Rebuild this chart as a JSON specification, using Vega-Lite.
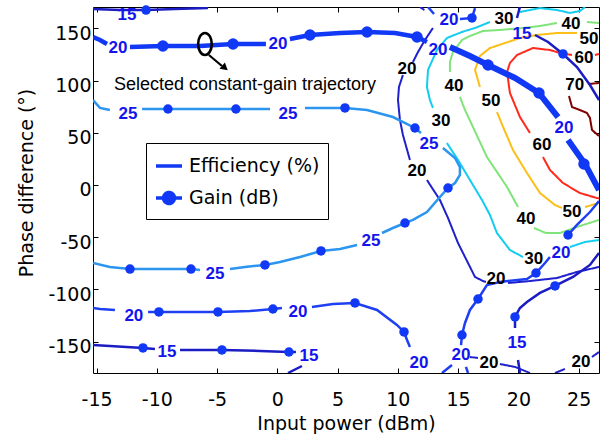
{
"$schema":"https://vega.github.io/schema/vega-lite/v6.json",
"width":506,"height":366,
"autosize":{"type":"none"},
"padding":{"left":93,"top":7,"right":11,"bottom":66},
"background":"#ffffff",
"config":{
 "view":{"stroke":"#000000","strokeWidth":1},
 "axis":{"domain":false,"grid":false,"ticks":true,"tickColor":"#000000","tickWidth":1,"tickSize":-5,"labelFont":"DejaVu Sans","labelFontSize":19,"labelColor":"#000000","labelFlush":false,"labelOverlap":false,"titleFont":"DejaVu Sans","titleFontSize":19,"titleFontWeight":"normal","titleColor":"#000000"}
},
"datasets":{
"lines":[
{"s":"e20i","c":"E20","k":"E","o":0,"x":11.83,"y":170.5},{"s":"e20i","c":"E20","k":"E","o":1,"x":12.2,"y":167.6},
{"s":"e20a","c":"E20","k":"E","o":2,"x":12.91,"y":150.4},{"s":"e20a","c":"E20","k":"E","o":3,"x":12.25,"y":138.9},{"s":"e20a","c":"E20","k":"E","o":4,"x":11.67,"y":127.4},{"s":"e20a","c":"E20","k":"E","o":5,"x":11.25,"y":117.8},
{"s":"e20b","c":"E20","k":"E","o":6,"x":10.42,"y":105.4},{"s":"e20b","c":"E20","k":"E","o":7,"x":10.09,"y":93.9},{"s":"e20b","c":"E20","k":"E","o":8,"x":10.01,"y":81.4},{"s":"e20b","c":"E20","k":"E","o":9,"x":10.17,"y":62.3},{"s":"e20b","c":"E20","k":"E","o":10,"x":10.42,"y":47.9},{"s":"e20b","c":"E20","k":"E","o":11,"x":11.0,"y":24.0},
{"s":"e20c","c":"E20","k":"E","o":12,"x":12.41,"y":4.8},{"s":"e20c","c":"E20","k":"E","o":13,"x":13.49,"y":-14.4},{"s":"e20c","c":"E20","k":"E","o":14,"x":14.16,"y":-31.6},{"s":"e20c","c":"E20","k":"E","o":15,"x":14.99,"y":-55.6},{"s":"e20c","c":"E20","k":"E","o":16,"x":15.82,"y":-74.7},{"s":"e20c","c":"E20","k":"E","o":17,"x":16.4,"y":-88.1},{"s":"e20c","c":"E20","k":"E","o":18,"x":17.06,"y":-92.0},{"s":"e20c","c":"E20","k":"E","o":19,"x":17.31,"y":-92.9},
{"s":"e20d","c":"E20","k":"E","o":20,"x":19.14,"y":-93.9},{"s":"e20d","c":"E20","k":"E","o":21,"x":20.96,"y":-92.0},{"s":"e20d","c":"E20","k":"E","o":22,"x":23.2,"y":-89.1},{"s":"e20d","c":"E20","k":"E","o":23,"x":24.86,"y":-83.3},{"s":"e20d","c":"E20","k":"E","o":24,"x":26.69,"y":-78.5},
{"s":"e20e","c":"E20","k":"E","o":25,"x":15.98,"y":-164.8},{"s":"e20e","c":"E20","k":"E","o":26,"x":16.65,"y":-165.7},
{"s":"e20f","c":"E20","k":"E","o":27,"x":18.47,"y":-171.5},{"s":"e20f","c":"E20","k":"E","o":28,"x":19.72,"y":-174.3},{"s":"e20f","c":"E20","k":"E","o":29,"x":20.96,"y":-180.1},
{"s":"e20g","c":"E20","k":"E","o":30,"x":23.04,"y":-180.1},{"s":"e20g","c":"E20","k":"E","o":31,"x":23.86,"y":-176.2},
{"s":"e20h","c":"E20","k":"E","o":32,"x":26.1,"y":-164.8},{"s":"e20h","c":"E20","k":"E","o":33,"x":26.69,"y":-160.0},
{"s":"e30a","c":"E30","k":"E","o":34,"x":25.53,"y":170.5},{"s":"e30a","c":"E30","k":"E","o":35,"x":25.11,"y":166.7},{"s":"e30a","c":"E30","k":"E","o":36,"x":24.28,"y":164.8},{"s":"e30a","c":"E30","k":"E","o":37,"x":23.2,"y":167.6},{"s":"e30a","c":"E30","k":"E","o":38,"x":21.79,"y":169.5},{"s":"e30a","c":"E30","k":"E","o":39,"x":20.13,"y":165.7},
{"s":"e30b","c":"E30","k":"E","o":40,"x":17.64,"y":156.1},{"s":"e30b","c":"E30","k":"E","o":41,"x":16.4,"y":150.4},{"s":"e30b","c":"E30","k":"E","o":42,"x":15.32,"y":146.6},{"s":"e30b","c":"E30","k":"E","o":43,"x":14.07,"y":140.8},{"s":"e30b","c":"E30","k":"E","o":44,"x":13.24,"y":129.3},{"s":"e30b","c":"E30","k":"E","o":45,"x":12.5,"y":110.2},{"s":"e30b","c":"E30","k":"E","o":46,"x":12.41,"y":93.9},{"s":"e30b","c":"E30","k":"E","o":47,"x":12.66,"y":81.4},{"s":"e30b","c":"E30","k":"E","o":48,"x":12.91,"y":73.8},
{"s":"e30c","c":"E30","k":"E","o":49,"x":14.07,"y":40.2},{"s":"e30c","c":"E30","k":"E","o":50,"x":14.99,"y":24.0},{"s":"e30c","c":"E30","k":"E","o":51,"x":15.98,"y":4.8},{"s":"e30c","c":"E30","k":"E","o":52,"x":16.98,"y":-14.4},{"s":"e30c","c":"E30","k":"E","o":53,"x":17.64,"y":-28.7},{"s":"e30c","c":"E30","k":"E","o":54,"x":18.22,"y":-46.0},{"s":"e30c","c":"E30","k":"E","o":55,"x":19.3,"y":-62.3},{"s":"e30c","c":"E30","k":"E","o":56,"x":20.38,"y":-69.0},
{"s":"e30d","c":"E30","k":"E","o":57,"x":24.28,"y":-59.4},{"s":"e30d","c":"E30","k":"E","o":58,"x":25.53,"y":-54.6},{"s":"e30d","c":"E30","k":"E","o":59,"x":26.69,"y":-52.7},
{"s":"e40a","c":"E40","k":"E","o":60,"x":26.69,"y":155.2},{"s":"e40a","c":"E40","k":"E","o":61,"x":25.69,"y":156.1},
{"s":"e40b","c":"E40","k":"E","o":62,"x":23.2,"y":155.2},{"s":"e40b","c":"E40","k":"E","o":63,"x":21.79,"y":152.3},{"s":"e40b","c":"E40","k":"E","o":64,"x":20.38,"y":150.4},{"s":"e40b","c":"E40","k":"E","o":65,"x":18.47,"y":148.5},{"s":"e40b","c":"E40","k":"E","o":66,"x":17.06,"y":147.5},{"s":"e40b","c":"E40","k":"E","o":67,"x":15.98,"y":142.7},{"s":"e40b","c":"E40","k":"E","o":68,"x":15.32,"y":138.9},{"s":"e40b","c":"E40","k":"E","o":69,"x":14.57,"y":127.4},{"s":"e40b","c":"E40","k":"E","o":70,"x":14.32,"y":117.8},{"s":"e40b","c":"E40","k":"E","o":71,"x":14.32,"y":108.2},
{"s":"e40c","c":"E40","k":"E","o":72,"x":15.15,"y":84.3},{"s":"e40c","c":"E40","k":"E","o":73,"x":15.57,"y":71.8},{"s":"e40c","c":"E40","k":"E","o":74,"x":16.23,"y":55.6},{"s":"e40c","c":"E40","k":"E","o":75,"x":17.39,"y":26.8},{"s":"e40c","c":"E40","k":"E","o":76,"x":19.06,"y":-1.9},{"s":"e40c","c":"E40","k":"E","o":77,"x":19.97,"y":-21.1},
{"s":"e40d","c":"E40","k":"E","o":78,"x":21.29,"y":-41.2},{"s":"e40d","c":"E40","k":"E","o":79,"x":22.29,"y":-46.0},{"s":"e40d","c":"E40","k":"E","o":80,"x":23.45,"y":-46.0},{"s":"e40d","c":"E40","k":"E","o":81,"x":24.86,"y":-40.2},{"s":"e40d","c":"E40","k":"E","o":82,"x":26.69,"y":-33.5},
{"s":"e50a","c":"E50","k":"E","o":83,"x":24.86,"y":145.6},{"s":"e50a","c":"E50","k":"E","o":84,"x":23.2,"y":145.6},{"s":"e50a","c":"E50","k":"E","o":85,"x":21.54,"y":143.7},{"s":"e50a","c":"E50","k":"E","o":86,"x":20.13,"y":140.8},{"s":"e50a","c":"E50","k":"E","o":87,"x":18.89,"y":136.0},{"s":"e50a","c":"E50","k":"E","o":88,"x":17.64,"y":131.2},{"s":"e50a","c":"E50","k":"E","o":89,"x":16.81,"y":123.6},{"s":"e50a","c":"E50","k":"E","o":90,"x":16.4,"y":110.2},{"s":"e50a","c":"E50","k":"E","o":91,"x":16.81,"y":93.9},
{"s":"e50b","c":"E50","k":"E","o":92,"x":18.22,"y":69.9},{"s":"e50b","c":"E50","k":"E","o":93,"x":18.73,"y":55.6},{"s":"e50b","c":"E50","k":"E","o":94,"x":19.55,"y":33.5},{"s":"e50b","c":"E50","k":"E","o":95,"x":20.71,"y":11.5},{"s":"e50b","c":"E50","k":"E","o":96,"x":21.79,"y":-7.7},{"s":"e50b","c":"E50","k":"E","o":97,"x":23.04,"y":-19.2},{"s":"e50b","c":"E50","k":"E","o":98,"x":23.62,"y":-22.0},
{"s":"e50c","c":"E50","k":"E","o":99,"x":25.53,"y":-21.1},{"s":"e50c","c":"E50","k":"E","o":100,"x":26.69,"y":-17.2},
{"s":"e60a","c":"E60","k":"E","o":101,"x":26.35,"y":124.5},{"s":"e60a","c":"E60","k":"E","o":102,"x":26.69,"y":125.5},
{"s":"e60b","c":"E60","k":"E","o":103,"x":24.45,"y":124.5},{"s":"e60b","c":"E60","k":"E","o":104,"x":23.45,"y":126.4},{"s":"e60b","c":"E60","k":"E","o":105,"x":22.62,"y":129.3},{"s":"e60b","c":"E60","k":"E","o":106,"x":21.21,"y":131.2},{"s":"e60b","c":"E60","k":"E","o":107,"x":19.88,"y":124.5},{"s":"e60b","c":"E60","k":"E","o":108,"x":19.3,"y":116.9},{"s":"e60b","c":"E60","k":"E","o":109,"x":19.06,"y":108.2},{"s":"e60b","c":"E60","k":"E","o":110,"x":19.3,"y":88.1},{"s":"e60b","c":"E60","k":"E","o":111,"x":20.13,"y":65.1},{"s":"e60b","c":"E60","k":"E","o":112,"x":20.96,"y":49.8},
{"s":"e60c","c":"E60","k":"E","o":113,"x":22.04,"y":26.8},{"s":"e60c","c":"E60","k":"E","o":114,"x":22.62,"y":14.4},{"s":"e60c","c":"E60","k":"E","o":115,"x":23.7,"y":1.9},{"s":"e60c","c":"E60","k":"E","o":116,"x":25.11,"y":-7.7},{"s":"e60c","c":"E60","k":"E","o":117,"x":26.52,"y":-12.5},{"s":"e60c","c":"E60","k":"E","o":118,"x":26.69,"y":-12.9},
{"s":"e70a","c":"E70","k":"E","o":119,"x":26.69,"y":97.7},{"s":"e70a","c":"E70","k":"E","o":120,"x":25.78,"y":96.7},
{"s":"e70b","c":"E70","k":"E","o":121,"x":24.2,"y":85.2},{"s":"e70b","c":"E70","k":"E","o":122,"x":24.45,"y":74.7},{"s":"e70b","c":"E70","k":"E","o":123,"x":25.11,"y":71.8},{"s":"e70b","c":"E70","k":"E","o":124,"x":25.69,"y":69.0},{"s":"e70b","c":"E70","k":"E","o":125,"x":25.94,"y":64.2},{"s":"e70b","c":"E70","k":"E","o":126,"x":26.11,"y":52.7},{"s":"e70b","c":"E70","k":"E","o":127,"x":26.69,"y":46.9},
{"s":"g15a","c":"G15","k":"G","o":128,"x":-15.3,"y":168.6},{"s":"g15a","c":"G15","k":"G","o":129,"x":-13.06,"y":167.6},{"s":"g15a","c":"G15","k":"G","o":130,"x":-10.9,"y":167.6},{"s":"g15a","c":"G15","k":"G","o":131,"x":-8.5,"y":168.6},{"s":"g15a","c":"G15","k":"G","o":132,"x":-5.76,"y":169.5},
{"s":"g15b","c":"G15","k":"G","o":133,"x":-15.3,"y":-153.3},{"s":"g15b","c":"G15","k":"G","o":134,"x":-13.9,"y":-154.2},{"s":"g15b","c":"G15","k":"G","o":135,"x":-11.15,"y":-156.1},{"s":"g15b","c":"G15","k":"G","o":136,"x":-10.16,"y":-157.1},
{"s":"g15c","c":"G15","k":"G","o":137,"x":-8.08,"y":-158.0},{"s":"g15c","c":"G15","k":"G","o":138,"x":-4.6,"y":-158.0},{"s":"g15c","c":"G15","k":"G","o":139,"x":-1.44,"y":-159.0},{"s":"g15c","c":"G15","k":"G","o":140,"x":0.96,"y":-160.0},{"s":"g15c","c":"G15","k":"G","o":141,"x":1.54,"y":-160.0},
{"s":"g15d","c":"G15","k":"G","o":142,"x":2.04,"y":-173.4},{"s":"g15d","c":"G15","k":"G","o":143,"x":0.88,"y":-180.1},
{"s":"g15e","c":"G15","k":"G","o":144,"x":20.13,"y":-180.1},{"s":"g15e","c":"G15","k":"G","o":145,"x":19.97,"y":-167.6},
{"s":"g15f","c":"G15","k":"G","o":146,"x":19.72,"y":-137.0},{"s":"g15f","c":"G15","k":"G","o":147,"x":19.72,"y":-126.4},{"s":"g15f","c":"G15","k":"G","o":148,"x":20.13,"y":-117.8},{"s":"g15f","c":"G15","k":"G","o":149,"x":20.71,"y":-112.1},{"s":"g15f","c":"G15","k":"G","o":150,"x":21.79,"y":-103.4},{"s":"g15f","c":"G15","k":"G","o":151,"x":23.04,"y":-96.7},{"s":"g15f","c":"G15","k":"G","o":152,"x":24.53,"y":-88.1},{"s":"g15f","c":"G15","k":"G","o":153,"x":25.94,"y":-76.6},{"s":"g15f","c":"G15","k":"G","o":154,"x":26.69,"y":-65.1},
{"s":"g15g","c":"G15","k":"G","o":155,"x":20.13,"y":170.5},{"s":"g15g","c":"G15","k":"G","o":156,"x":19.88,"y":160.0},
{"s":"g15h","c":"G15","k":"G","o":157,"x":21.38,"y":143.7},{"s":"g15h","c":"G15","k":"G","o":158,"x":22.46,"y":137.0},{"s":"g15h","c":"G15","k":"G","o":159,"x":23.7,"y":125.5},{"s":"g15h","c":"G15","k":"G","o":160,"x":24.86,"y":113.0},{"s":"g15h","c":"G15","k":"G","o":161,"x":25.94,"y":95.8},{"s":"g15h","c":"G15","k":"G","o":162,"x":26.69,"y":81.4},
{"s":"g20a","c":"G20","k":"G","o":163,"x":-15.3,"y":-117.8},{"s":"g20a","c":"G20","k":"G","o":164,"x":-14.72,"y":-118.8},{"s":"g20a","c":"G20","k":"G","o":165,"x":-13.48,"y":-119.7},
{"s":"g20b","c":"G20","k":"G","o":166,"x":-10.73,"y":-121.6},{"s":"g20b","c":"G20","k":"G","o":167,"x":-9.83,"y":-121.6},{"s":"g20b","c":"G20","k":"G","o":168,"x":-7.26,"y":-121.6},{"s":"g20b","c":"G20","k":"G","o":169,"x":-4.93,"y":-121.6},{"s":"g20b","c":"G20","k":"G","o":170,"x":-2.27,"y":-120.7},{"s":"g20b","c":"G20","k":"G","o":171,"x":-0.37,"y":-118.8},{"s":"g20b","c":"G20","k":"G","o":172,"x":0.38,"y":-117.8},
{"s":"g20c","c":"G20","k":"G","o":173,"x":2.87,"y":-116.9},{"s":"g20c","c":"G20","k":"G","o":174,"x":4.61,"y":-114.0},{"s":"g20c","c":"G20","k":"G","o":175,"x":6.44,"y":-113.0},{"s":"g20c","c":"G20","k":"G","o":176,"x":8.27,"y":-119.7},{"s":"g20c","c":"G20","k":"G","o":177,"x":9.92,"y":-134.1},{"s":"g20c","c":"G20","k":"G","o":178,"x":10.51,"y":-140.8},{"s":"g20c","c":"G20","k":"G","o":179,"x":10.76,"y":-148.5},{"s":"g20c","c":"G20","k":"G","o":180,"x":11.0,"y":-155.2},
{"s":"g20d","c":"G20","k":"G","o":181,"x":15.82,"y":-180.1},{"s":"g20d","c":"G20","k":"G","o":182,"x":15.65,"y":-174.3},
{"s":"g20e","c":"G20","k":"G","o":183,"x":15.24,"y":-153.3},{"s":"g20e","c":"G20","k":"G","o":184,"x":15.32,"y":-143.7},{"s":"g20e","c":"G20","k":"G","o":185,"x":15.57,"y":-132.2},{"s":"g20e","c":"G20","k":"G","o":186,"x":15.98,"y":-119.7},{"s":"g20e","c":"G20","k":"G","o":187,"x":16.65,"y":-109.2},{"s":"g20e","c":"G20","k":"G","o":188,"x":17.39,"y":-95.8},{"s":"g20e","c":"G20","k":"G","o":189,"x":18.47,"y":-92.9},{"s":"g20e","c":"G20","k":"G","o":190,"x":20.71,"y":-90.0},{"s":"g20e","c":"G20","k":"G","o":191,"x":21.46,"y":-84.3},{"s":"g20e","c":"G20","k":"G","o":192,"x":22.21,"y":-74.7},{"s":"g20e","c":"G20","k":"G","o":193,"x":22.62,"y":-69.0},
{"s":"g20f","c":"G20","k":"G","o":194,"x":24.03,"y":-50.8},{"s":"g20f","c":"G20","k":"G","o":195,"x":24.12,"y":-47.9},{"s":"g20f","c":"G20","k":"G","o":196,"x":24.86,"y":-38.3},{"s":"g20f","c":"G20","k":"G","o":197,"x":25.94,"y":-25.9},{"s":"g20f","c":"G20","k":"G","o":198,"x":26.69,"y":-15.3},
{"s":"g20g","c":"G20","k":"G","o":199,"x":13.66,"y":-180.1},{"s":"g20g","c":"G20","k":"G","o":200,"x":14.49,"y":-172.4},
{"s":"g20h","c":"G20","k":"G","o":201,"x":12.5,"y":170.5},{"s":"g20h","c":"G20","k":"G","o":202,"x":13.0,"y":163.8},
{"s":"g20i","c":"G20","k":"G","o":203,"x":15.15,"y":159.0},{"s":"g20i","c":"G20","k":"G","o":204,"x":16.15,"y":160.0},{"s":"g20i","c":"G20","k":"G","o":205,"x":16.4,"y":169.5},
{"s":"g25a","c":"G25","k":"G","o":206,"x":-15.3,"y":81.4},{"s":"g25a","c":"G25","k":"G","o":207,"x":-14.72,"y":73.8},{"s":"g25a","c":"G25","k":"G","o":208,"x":-13.9,"y":71.8},
{"s":"g25b","c":"G25","k":"G","o":209,"x":-11.23,"y":72.8},{"s":"g25b","c":"G25","k":"G","o":210,"x":-9.08,"y":72.8},{"s":"g25b","c":"G25","k":"G","o":211,"x":-6.42,"y":72.8},{"s":"g25b","c":"G25","k":"G","o":212,"x":-3.44,"y":72.8},{"s":"g25b","c":"G25","k":"G","o":213,"x":-0.61,"y":72.8},
{"s":"g25c","c":"G25","k":"G","o":214,"x":2.29,"y":73.8},{"s":"g25c","c":"G25","k":"G","o":215,"x":5.61,"y":73.8},{"s":"g25c","c":"G25","k":"G","o":216,"x":7.44,"y":71.8},{"s":"g25c","c":"G25","k":"G","o":217,"x":9.59,"y":65.1},{"s":"g25c","c":"G25","k":"G","o":218,"x":11.42,"y":54.6},{"s":"g25c","c":"G25","k":"G","o":219,"x":11.92,"y":49.8},
{"s":"g25d","c":"G25","k":"G","o":220,"x":13.74,"y":35.4},{"s":"g25d","c":"G25","k":"G","o":221,"x":14.74,"y":25.9},{"s":"g25d","c":"G25","k":"G","o":222,"x":15.15,"y":17.2},{"s":"g25d","c":"G25","k":"G","o":223,"x":15.15,"y":9.6},{"s":"g25d","c":"G25","k":"G","o":224,"x":14.74,"y":1.9},{"s":"g25d","c":"G25","k":"G","o":225,"x":14.16,"y":-2.9},{"s":"g25d","c":"G25","k":"G","o":226,"x":13.49,"y":-11.5},{"s":"g25d","c":"G25","k":"G","o":227,"x":12.41,"y":-25.9},{"s":"g25d","c":"G25","k":"G","o":228,"x":11.25,"y":-33.5},{"s":"g25d","c":"G25","k":"G","o":229,"x":10.59,"y":-36.4},{"s":"g25d","c":"G25","k":"G","o":230,"x":9.59,"y":-41.2},{"s":"g25d","c":"G25","k":"G","o":231,"x":8.68,"y":-46.0},
{"s":"g25e","c":"G25","k":"G","o":232,"x":6.61,"y":-57.5},{"s":"g25e","c":"G25","k":"G","o":233,"x":5.2,"y":-61.3},{"s":"g25e","c":"G25","k":"G","o":234,"x":3.62,"y":-63.2},{"s":"g25e","c":"G25","k":"G","o":235,"x":1.88,"y":-69.0},{"s":"g25e","c":"G25","k":"G","o":236,"x":0.22,"y":-73.8},{"s":"g25e","c":"G25","k":"G","o":237,"x":-1.03,"y":-76.6},{"s":"g25e","c":"G25","k":"G","o":238,"x":-2.69,"y":-78.5},{"s":"g25e","c":"G25","k":"G","o":239,"x":-3.93,"y":-80.5},
{"s":"g25f","c":"G25","k":"G","o":240,"x":-6.42,"y":-81.4},{"s":"g25f","c":"G25","k":"G","o":241,"x":-7.17,"y":-80.5},{"s":"g25f","c":"G25","k":"G","o":242,"x":-9.74,"y":-80.5},{"s":"g25f","c":"G25","k":"G","o":243,"x":-12.23,"y":-80.5},{"s":"g25f","c":"G25","k":"G","o":244,"x":-13.9,"y":-78.5},{"s":"g25f","c":"G25","k":"G","o":245,"x":-15.3,"y":-74.7},
{"s":"t1","c":"TL","k":"G","o":246,"x":-15.3,"y":141.8},{"s":"t1","c":"TL","k":"G","o":247,"x":-14.72,"y":138.9},{"s":"t1","c":"TL","k":"G","o":248,"x":-14.14,"y":135.1},
{"s":"t2","c":"TL","k":"G","o":249,"x":-12.23,"y":132.2},{"s":"t2","c":"TL","k":"G","o":250,"x":-9.5,"y":133.1},{"s":"t2","c":"TL","k":"G","o":251,"x":-6.42,"y":133.1},{"s":"t2","c":"TL","k":"G","o":252,"x":-3.68,"y":135.1},{"s":"t2","c":"TL","k":"G","o":253,"x":-1.28,"y":135.1},{"s":"t2","c":"TL","k":"G","o":254,"x":-0.95,"y":135.1},
{"s":"t3","c":"TL","k":"G","o":255,"x":1.04,"y":139.8},{"s":"t3","c":"TL","k":"G","o":256,"x":2.71,"y":143.7},{"s":"t3","c":"TL","k":"G","o":257,"x":5.2,"y":145.6},{"s":"t3","c":"TL","k":"G","o":258,"x":7.44,"y":146.6},{"s":"t3","c":"TL","k":"G","o":259,"x":9.76,"y":145.6},{"s":"t3","c":"TL","k":"G","o":260,"x":11.59,"y":141.8},{"s":"t3","c":"TL","k":"G","o":261,"x":12.41,"y":137.0},
{"s":"t4","c":"TR","k":"G","o":262,"x":14.32,"y":132.2},{"s":"t4","c":"TR","k":"G","o":263,"x":15.98,"y":123.6},{"s":"t4","c":"TR","k":"G","o":264,"x":17.48,"y":114.9},{"s":"t4","c":"TR","k":"G","o":265,"x":19.72,"y":102.5},{"s":"t4","c":"TR","k":"G","o":266,"x":21.71,"y":88.1},{"s":"t4","c":"TR","k":"G","o":267,"x":23.29,"y":65.1},
{"s":"t5","c":"TR","k":"G","o":268,"x":24.12,"y":43.1},{"s":"t5","c":"TR","k":"G","o":269,"x":25.53,"y":20.1},{"s":"t5","c":"TR","k":"G","o":270,"x":26.69,"y":-4.8}
],
"dots":[
{"c":"T","x":-9.5,"y":133.1},{"c":"T","x":-3.68,"y":135.1},{"c":"T","x":2.71,"y":143.7},{"c":"T","x":7.44,"y":146.6},{"c":"T","x":11.59,"y":141.8},{"c":"T","x":17.48,"y":114.9},{"c":"T","x":21.71,"y":88.1},{"c":"T","x":25.44,"y":20.1},
{"c":"G","x":-10.9,"y":167.6},
{"c":"G","x":-9.08,"y":72.8},{"c":"G","x":-3.44,"y":72.8},{"c":"G","x":5.61,"y":73.8},{"c":"G","x":11.42,"y":54.6},{"c":"G","x":14.16,"y":-2.9},{"c":"G","x":10.59,"y":-36.4},{"c":"G","x":3.62,"y":-63.2},{"c":"G","x":-1.03,"y":-76.6},{"c":"G","x":-7.17,"y":-80.5},{"c":"G","x":-12.23,"y":-80.5},
{"c":"G","x":-9.83,"y":-121.6},{"c":"G","x":-4.93,"y":-121.6},{"c":"G","x":-0.37,"y":-118.8},{"c":"G","x":6.44,"y":-113.0},{"c":"G","x":10.51,"y":-140.8},
{"c":"G","x":-11.15,"y":-156.1},{"c":"G","x":-4.6,"y":-158.0},{"c":"G","x":0.96,"y":-160.0},
{"c":"G","x":15.32,"y":-143.7},{"c":"G","x":16.65,"y":-109.2},{"c":"G","x":21.46,"y":-84.3},{"c":"G","x":24.12,"y":-47.9},
{"c":"G","x":19.72,"y":-126.4},{"c":"G","x":23.04,"y":-96.7},
{"c":"G","x":23.7,"y":125.5},{"c":"G","x":16.15,"y":160.0}
],
"labels":[
{"t":"15","k":"G","x":-12.48,"y":162.8},{"t":"20","k":"G","x":-13.23,"y":131.2},{"t":"20","k":"G","x":0.05,"y":135.1},{"t":"20","k":"G","x":13.33,"y":129.3},{"t":"20","k":"G","x":23.78,"y":54.6},
{"t":"25","k":"G","x":-12.4,"y":68.0},{"t":"25","k":"G","x":0.88,"y":68.0},{"t":"25","k":"G","x":12.58,"y":39.3},{"t":"25","k":"G","x":7.77,"y":-53.6},{"t":"25","k":"G","x":-5.18,"y":-85.2},
{"t":"20","k":"G","x":-11.91,"y":-125.5},{"t":"20","k":"G","x":1.71,"y":-121.6},{"t":"20","k":"G","x":11.75,"y":-170.5},{"t":"15","k":"G","x":-9.16,"y":-160.4},{"t":"15","k":"G","x":2.62,"y":-163.8},
{"t":"20","k":"G","x":15.24,"y":-162.8},{"t":"15","k":"G","x":19.88,"y":-151.8},{"t":"20","k":"G","x":23.53,"y":-65.1},{"t":"15","k":"G","x":20.3,"y":144.6},{"t":"20","k":"G","x":14.24,"y":158.0},
{"t":"20","k":"E","x":10.75,"y":111.1},{"t":"20","k":"E","x":11.58,"y":13.4},{"t":"20","k":"E","x":18.14,"y":-90.0},{"t":"20","k":"E","x":17.56,"y":-170.5},{"t":"20","k":"E","x":25.19,"y":-169.1},
{"t":"30","k":"E","x":18.8,"y":159.0},{"t":"30","k":"E","x":13.57,"y":61.3},{"t":"30","k":"E","x":21.28,"y":-70.9},
{"t":"40","k":"E","x":24.36,"y":154.2},{"t":"40","k":"E","x":14.65,"y":94.8},{"t":"40","k":"E","x":20.63,"y":-32.6},
{"t":"50","k":"E","x":25.86,"y":139.9},{"t":"50","k":"E","x":17.73,"y":80.5},{"t":"50","k":"E","x":24.45,"y":-26.3},
{"t":"60","k":"E","x":25.44,"y":122.1},{"t":"60","k":"E","x":21.96,"y":38.3},{"t":"70","k":"E","x":24.68,"y":95.8}
],
"note":[{"t":"Selected constant-gain trajectory","x":-13.56,"y":91.0}],
"ring":[{"x":-6.01,"y":135.1}],
"arrow":[{"o":0,"x":-5.68,"y":124.5},{"o":1,"x":-4.6,"y":114.0}],
"head":[{"x":-4.35,"y":112.1}]
},
"layer":[
{"data":{"name":"lines"},
 "transform":[{"filter":"datum.k === 'E'"}],
 "mark":{"type":"line","strokeWidth":2,"clip":true},
 "encoding":{
  "x":{"field":"x","type":"quantitative","scale":{"domain":[-15.3,26.69],"nice":false,"zero":false},
       "axis":{"orient":"bottom","title":"Input power (dBm)","values":[-15,-10,-5,0,5,10,15,20,25],"labelExpr":"datum.value < 0 ? '-' + abs(datum.value) : '' + datum.value","labelPadding":22,"titlePadding":5}},
  "y":{"field":"y","type":"quantitative","scale":{"domain":[-180.1,170.5],"nice":false,"zero":false},
       "axis":{"orient":"left","title":"Phase difference (°)","values":[-150,-100,-50,0,50,100,150],"labelExpr":"datum.value < 0 ? '-' + abs(datum.value) : '' + datum.value","labelPadding":7,"labelOffset":5,"titlePadding":11,"titleY":175.5}},
  "color":{"field":"c","type":"nominal","scale":{"domain":["E20","E30","E40","E50","E60","E70","G15","G20","G25","TL","TR"],"range":["#2020cc","#12cdf0","#80e47a","#fcbf18","#ff2a1c","#7f0000","#1c1cc4","#1f40f2","#2b95f0","#1038f5","#1038f5"]},"legend":null},
  "detail":{"field":"s"},
  "order":{"field":"o","type":"quantitative"},
  "strokeDash":{"field":"k","type":"nominal","scale":{"domain":["E","G"],"range":[[1,0],[1,0]]},
     "legend":{"title":null,"orient":"none","legendX":53,"legendY":136,"symbolType":"stroke","symbolSize":676,"symbolStrokeWidth":3.5,"symbolStrokeColor":"#1038f5","labelFont":"DejaVu Sans","labelFontSize":19,"labelColor":"#000000","labelOffset":5,"rowPadding":7,"padding":8,"strokeColor":"#000000","fillColor":"#ffffff","cornerRadius":0,
       "labelExpr":"datum.value === 'E' ? 'Efficiency (%)' : 'Gain (dB)'",
       "encode":{"symbols":{"update":{
          "shape":{"signal":"datum.value === 'G' ? 'M-1,0L1,0M-0.42,0A0.42,0.42,0,1,1,0.42,0A0.42,0.42,0,1,1,-0.42,0Z' : 'stroke'"},
          "fill":{"signal":"datum.value === 'G' ? '#1038f5' : 'transparent'"},
          "stroke":{"value":"#1038f5"},"strokeWidth":{"value":3.5}}}}}}
 }},
{"data":{"name":"lines"},
 "transform":[{"filter":"datum.k === 'G'"}],
 "mark":{"type":"line","clip":true},
 "encoding":{
  "x":{"field":"x","type":"quantitative","scale":{"domain":[-15.3,26.69],"nice":false,"zero":false},"axis":null},
  "y":{"field":"y","type":"quantitative","scale":{"domain":[-180.1,170.5],"nice":false,"zero":false},"axis":null},
  "color":{"field":"c","type":"nominal","legend":null},
  "detail":{"field":"s"},
  "order":{"field":"o","type":"quantitative"},
  "strokeWidth":{"condition":[{"test":"datum.c === 'TR'","value":6},{"test":"datum.c === 'TL'","value":4.5}],"value":2.5}
 }},
{"data":{"name":"arrow"},
 "mark":{"type":"line","color":"#000000","strokeWidth":2.2},
 "encoding":{
  "x":{"field":"x","type":"quantitative","scale":{"domain":[-15.3,26.69],"nice":false,"zero":false},"axis":null},
  "y":{"field":"y","type":"quantitative","scale":{"domain":[-180.1,170.5],"nice":false,"zero":false},"axis":null},
  "order":{"field":"o","type":"quantitative"}
 }},
{"data":{"name":"head"},
 "mark":{"type":"point","shape":"triangle-right","angle":40,"filled":true,"color":"#000000","size":70,"opacity":1},
 "encoding":{
  "x":{"field":"x","type":"quantitative","scale":{"domain":[-15.3,26.69],"nice":false,"zero":false},"axis":null},
  "y":{"field":"y","type":"quantitative","scale":{"domain":[-180.1,170.5],"nice":false,"zero":false},"axis":null}
 }},
{"data":{"name":"ring"},
 "mark":{"type":"point","shape":"M0,-1A0.62,1,0,1,1,0,1A0.62,1,0,1,1,0,-1Z","filled":false,"stroke":"#000000","strokeWidth":2.6,"size":484,"opacity":1},
 "encoding":{
  "x":{"field":"x","type":"quantitative","scale":{"domain":[-15.3,26.69],"nice":false,"zero":false},"axis":null},
  "y":{"field":"y","type":"quantitative","scale":{"domain":[-180.1,170.5],"nice":false,"zero":false},"axis":null}
 }},
{"data":{"name":"note"},
 "mark":{"type":"text","font":"Liberation Sans","fontSize":18,"align":"left","baseline":"alphabetic","color":"#000000"},
 "encoding":{
  "x":{"field":"x","type":"quantitative","scale":{"domain":[-15.3,26.69],"nice":false,"zero":false},"axis":null},
  "y":{"field":"y","type":"quantitative","scale":{"domain":[-180.1,170.5],"nice":false,"zero":false},"axis":null},
  "text":{"field":"t"}
 }},
{"data":{"name":"dots"},
 "mark":{"type":"point","shape":"circle","filled":true,"color":"#1038f5","opacity":1},
 "encoding":{
  "x":{"field":"x","type":"quantitative","scale":{"domain":[-15.3,26.69],"nice":false,"zero":false},"axis":null},
  "y":{"field":"y","type":"quantitative","scale":{"domain":[-180.1,170.5],"nice":false,"zero":false},"axis":null},
  "size":{"condition":{"test":"datum.c === 'T'","value":130},"value":90}
 }},
{"data":{"name":"labels"},
 "mark":{"type":"text","font":"Liberation Sans","fontWeight":"bold","fontSize":17,"align":"center","baseline":"middle"},
 "encoding":{
  "x":{"field":"x","type":"quantitative","scale":{"domain":[-15.3,26.69],"nice":false,"zero":false},
       "axis":{"orient":"top","labels":false,"title":null,"values":[-15,-10,-5,0,5,10,15,20,25]}},
  "y":{"field":"y","type":"quantitative","scale":{"domain":[-180.1,170.5],"nice":false,"zero":false},
       "axis":{"orient":"right","labels":false,"title":null,"values":[-150,-100,-50,0,50,100,150]}},
  "text":{"field":"t"},
  "color":{"condition":{"test":"datum.k === 'G'","value":"#1414ee"},"value":"#000000"}
 }}
],
"resolve":{"axis":{"x":"independent","y":"independent"}}
}
